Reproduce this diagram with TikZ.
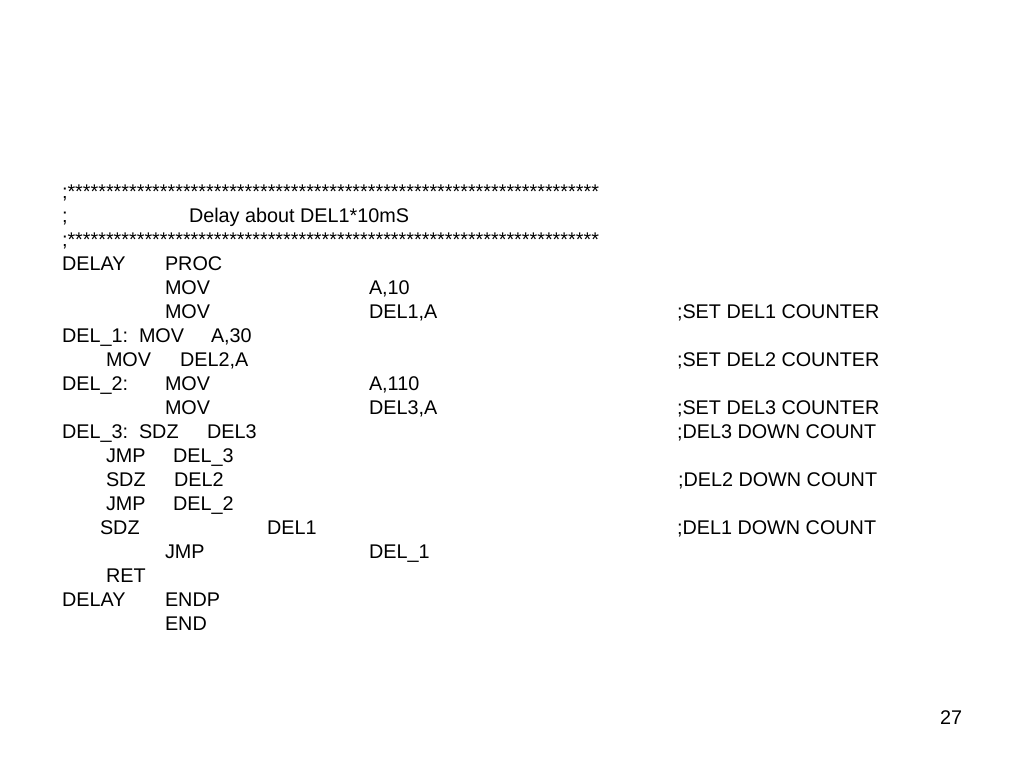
\documentclass[tikz,border=0pt]{standalone}
\usepackage{fontspec}
\setmainfont{Liberation Sans}
\begin{document}
\begin{tikzpicture}[x=1pt,y=-1pt,
  t/.style={anchor=base west,inner sep=0pt,outer sep=0pt,font=\fontsize{19.8}{24}\selectfont,text=black}]
\useasboundingbox[fill=white] (0,0) rectangle (1024,768);
% header
\node[t] (s1) at (62,198) {;*********************************************************************};
\node[t] (h0) at (62,222) {;};
\node[t] (h1) at (189,222) {Delay about DEL1*10mS};
\node[t] (s2) at (62,246) {;*********************************************************************};
% line 0
\node[t] (a0) at (62,270) {DELAY};
\node[t] (b0) at (165,270) {PROC};
% line 1
\node[t] (b1) at (165,294) {MOV};
\node[t] (c1) at (369,294) {A,10};
% line 2
\node[t] (b2) at (165,318) {MOV};
\node[t] (c2) at (369,318) {DEL1,A};
\node[t] (d2) at (677,318) {;SET DEL1 COUNTER};
% line 3
\node[t] (a3) at (62,342) {DEL\_1:};
\node[t] (b3) at (139,342) {MOV};
\node[t] (c3) at (211,342) {A,30};
% line 4
\node[t] (b4) at (106,366) {MOV};
\node[t] (c4) at (180,366) {DEL2,A};
\node[t] (d4) at (677,366) {;SET DEL2 COUNTER};
% line 5
\node[t] (a5) at (62,390) {DEL\_2:};
\node[t] (b5) at (165,390) {MOV};
\node[t] (c5) at (369,390) {A,110};
% line 6
\node[t] (b6) at (165,414) {MOV};
\node[t] (c6) at (369,414) {DEL3,A};
\node[t] (d6) at (677,414) {;SET DEL3 COUNTER};
% line 7
\node[t] (a7) at (62,438) {DEL\_3:};
\node[t] (b7) at (139,438) {SDZ};
\node[t] (c7) at (207,438) {DEL3};
\node[t] (d7) at (677,438) {;DEL3 DOWN COUNT};
% line 8
\node[t] (b8) at (106,462) {JMP};
\node[t] (c8) at (173,462) {DEL\_3};
% line 9
\node[t] (b9) at (106,486) {SDZ};
\node[t] (c9) at (174,486) {DEL2};
\node[t] (d9) at (678,486) {;DEL2 DOWN COUNT};
% line 10
\node[t] (b10) at (106,510) {JMP};
\node[t] (c10) at (173,510) {DEL\_2};
% line 11
\node[t] (b11) at (100,534) {SDZ};
\node[t] (c11) at (267,534) {DEL1};
\node[t] (d11) at (677,534) {;DEL1 DOWN COUNT};
% line 12
\node[t] (b12) at (165,558) {JMP};
\node[t] (c12) at (369,558) {DEL\_1};
% line 13
\node[t] (b13) at (106,582) {RET};
% line 14
\node[t] (a14) at (62,606) {DELAY};
\node[t] (b14) at (165,606) {ENDP};
% line 15
\node[t] (b15) at (165,630) {END};
% page number
\node[t] (pg) at (940,724) {27};
\end{tikzpicture}
\end{document}
